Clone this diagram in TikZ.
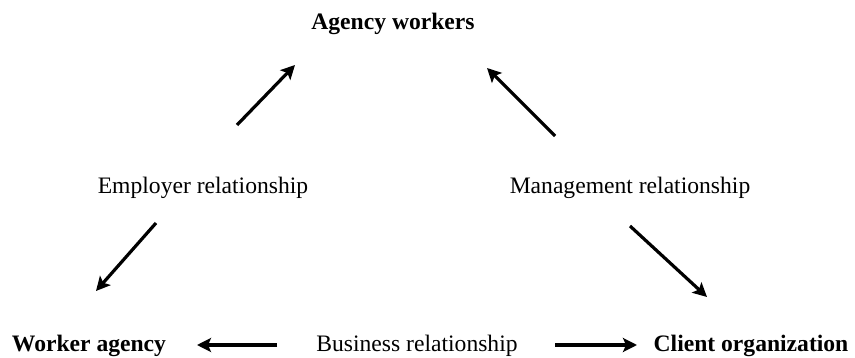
\documentclass[tikz,border=0pt]{standalone}
\usepackage{fontspec}
\setmainfont{Liberation Serif}
\usetikzlibrary{arrows.meta}

\begin{document}
\begin{tikzpicture}[x=0.5pt, y=0.5pt, font=\fontsize{11.8}{14}\selectfont]
  \tikzset{
    lbl/.style={anchor=base, inner sep=0pt},
    party/.style={lbl, font=\fontsize{11.8}{14}\selectfont\bfseries},
    rel/.style={line width=1.6pt, -{Stealth[length=7pt, width=7pt, inset=1.5pt]}}
  }
  \useasboundingbox (0, 0) rectangle (855, 358);

  % the three parties
  \node[party] (workers) at (393, 328) {Agency workers};
  \node[party] (agency)  at (89, 6)    {Worker agency};
  \node[party] (client)  at (751, 6)   {Client organization};

  % the relationships between them
  \node[lbl] (employer) at (203, 164) {Employer relationship};
  \node[lbl] (manage)   at (630, 164) {Management relationship};
  \node[lbl] (business) at (417, 6)   {Business relationship};

  % arrow ends
  \coordinate (e1) at (237, 233);  \coordinate (e2) at (295, 293);
  \coordinate (e3) at (156, 135);  \coordinate (e4) at (96, 67);
  \coordinate (m1) at (555, 222);  \coordinate (m2) at (487, 290);
  \coordinate (m3) at (630, 132);  \coordinate (m4) at (707, 61);
  \coordinate (b1) at (277, 13);   \coordinate (b2) at (197, 13);
  \coordinate (b3) at (555, 13);   \coordinate (b4) at (637, 13);

  \foreach \a/\b in {e1/e2, e3/e4, m1/m2, m3/m4, b1/b2, b3/b4} {
    \draw[rel] (\a) -- (\b);
  }
\end{tikzpicture}
\end{document}
